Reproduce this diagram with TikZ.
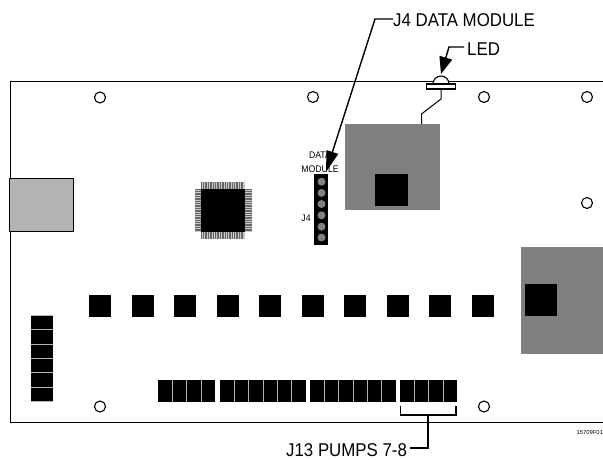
\documentclass[tikz,border=0pt]{standalone}
\usepackage{fontspec}
\setmainfont{Liberation Sans}
\newfontfamily\narrowsans[FakeStretch=0.91]{Liberation Sans}
\usetikzlibrary{arrows.meta}
\definecolor{midgrey}{HTML}{808080}
\definecolor{lightgrey}{HTML}{B3B3B3}
\tikzset{
  board/.style={draw=black,line width=0.9pt},
  blackbox/.style={fill=black,draw=none},
  sep/.style={draw=lightgrey,line width=0.9pt},
  hole/.style={draw=black,fill=white,line width=1.1pt},
  lead/.style={draw=black,line width=1.4pt},
  biglabel/.style={font=\narrowsans\fontsize{18.5}{19}\selectfont,inner sep=0pt},
  smalllabel/.style={font=\narrowsans\fontsize{9.6}{10}\selectfont,inner sep=0pt},
  pin/.style={draw=black!60,line width=0.8pt},
  bighead/.style={-{Triangle[length=21pt,width=12pt]}},
  ledhead/.style={-{Triangle[length=17pt,width=13pt]}}
}
\begin{document}
\begin{tikzpicture}[x=1pt,y=-1pt]
\useasboundingbox (0,0) rectangle (603,459);
% board outline
\draw[board] (603,81.5) -- (10,81.5) -- (10,422) -- (603,422);
% mounting holes
\foreach \x/\y in {100/97.5,313/97,484/97,587/97,587/203,100/406.5,484/406.5}
  \draw[hole] (\x,\y) circle (5.5);
% grey connector
\draw[fill=lightgrey,draw=black,line width=0.9pt] (9.5,178) rectangle (73,231);
% QFP chip
\fill[black!22] (201,182) rectangle (244.5,238.5);
\fill[black!22] (195,189) rectangle (251.5,232);
\foreach \i in {0,...,24} {
  \draw[pin] (201.5+1.72*\i,182) -- (201.5+1.72*\i,238.5);
  \draw[pin] (195,189.5+1.72*\i) -- (251.5,189.5+1.72*\i);
}
\fill[blackbox] (201,189) rectangle (244.5,232);
% big grey modules
\fill[midgrey] (345,124) rectangle (440,210);
\fill[blackbox] (375,174) rectangle (408,206);
\fill[midgrey] (521,247) rectangle (603,354);
\fill[blackbox] (525,284) rectangle (557,316);
% row of squares
\foreach \i in {0,...,9}
  \fill[blackbox] (89+42.5*\i,295) rectangle (111+42.5*\i,317);
% left strip
\fill[blackbox] (31,315.5) rectangle (53,401.5);
\foreach \i in {0,...,6}
  \draw[sep] (31,315.5+14.33*\i) -- (53,315.5+14.33*\i);
% bottom strips
\foreach \a/\b in {158/215.3,220/306,310/396,400/457.3}
  \fill[blackbox] (\a,380) rectangle (\b,402);
\foreach \s in {172.33,186.66,201,234.33,248.66,263,277.33,291.66,324.33,338.66,353,367.33,381.66,414.33,428.66,443}
  \draw[sep] (\s,380) -- (\s,402);
% J4 header
\fill[blackbox] (314,174) rectangle (328,245);
\foreach \y in {181.7,192.9,204,215.3,226.6,237.5}
  \fill[midgrey] (321.5,\y) circle (4);
\node[smalllabel,anchor=base] (datatxt) at (320,158.5) {DATA};
\node[smalllabel,anchor=base] (modtxt) at (320,172) {MODULE};
\node[smalllabel,anchor=base] (j4txt) at (306,221) {J4};
% LED
\draw[draw=black,fill=white,line width=1.1pt] (433,84) arc (180:360:8) -- cycle;
\node[draw=black,fill=white,line width=1.1pt,minimum width=29pt,minimum height=5pt,inner sep=0pt] (led) at (441,86.5) {};
\coordinate (wa) at (441,99);
\coordinate (wb) at (421.5,114);
\coordinate (wc) at (421.5,124);
\draw[line width=1pt] (led.south) -- (wa) -- (wb) -- (wc);
% labels
\node[biglabel,anchor=base west] (j4lab) at (393,26.5) {J4 DATA MODULE};
\node[biglabel,anchor=base west] (ledlab) at (467,55) {LED};
\node[biglabel,anchor=base west] (j13lab) at (286,456.5) {J13 PUMPS 7-8};
\node[font=\fontsize{5.8}{6}\selectfont,inner sep=0pt,anchor=base east] (code) at (603,434) {15709F01};
% leaders
\coordinate (j4bend) at (375,19);
\coordinate (j4tip) at (326,172);
\draw[lead,bighead] (j4lab.west |- j4bend) -- (j4bend) -- (j4tip);
\coordinate (ledbend) at (449,47);
\coordinate (ledtip) at (441,74);
\draw[lead,ledhead] (ledlab.west |- ledbend) ++(-3,0) -- (ledbend) -- (ledtip);
% J13 bracket
\coordinate (bl) at (400.5,406);
\coordinate (br) at (456,406);
\coordinate (stem) at (428,415);
\coordinate (stemb) at (428,448);
\coordinate (stemend) at (410,448);
\draw[lead] (bl) -- (bl |- stem) -- (br |- stem) -- (br);
\draw[lead] (stem) -- (stemb) -- (stemend);
\end{tikzpicture}
\end{document}
